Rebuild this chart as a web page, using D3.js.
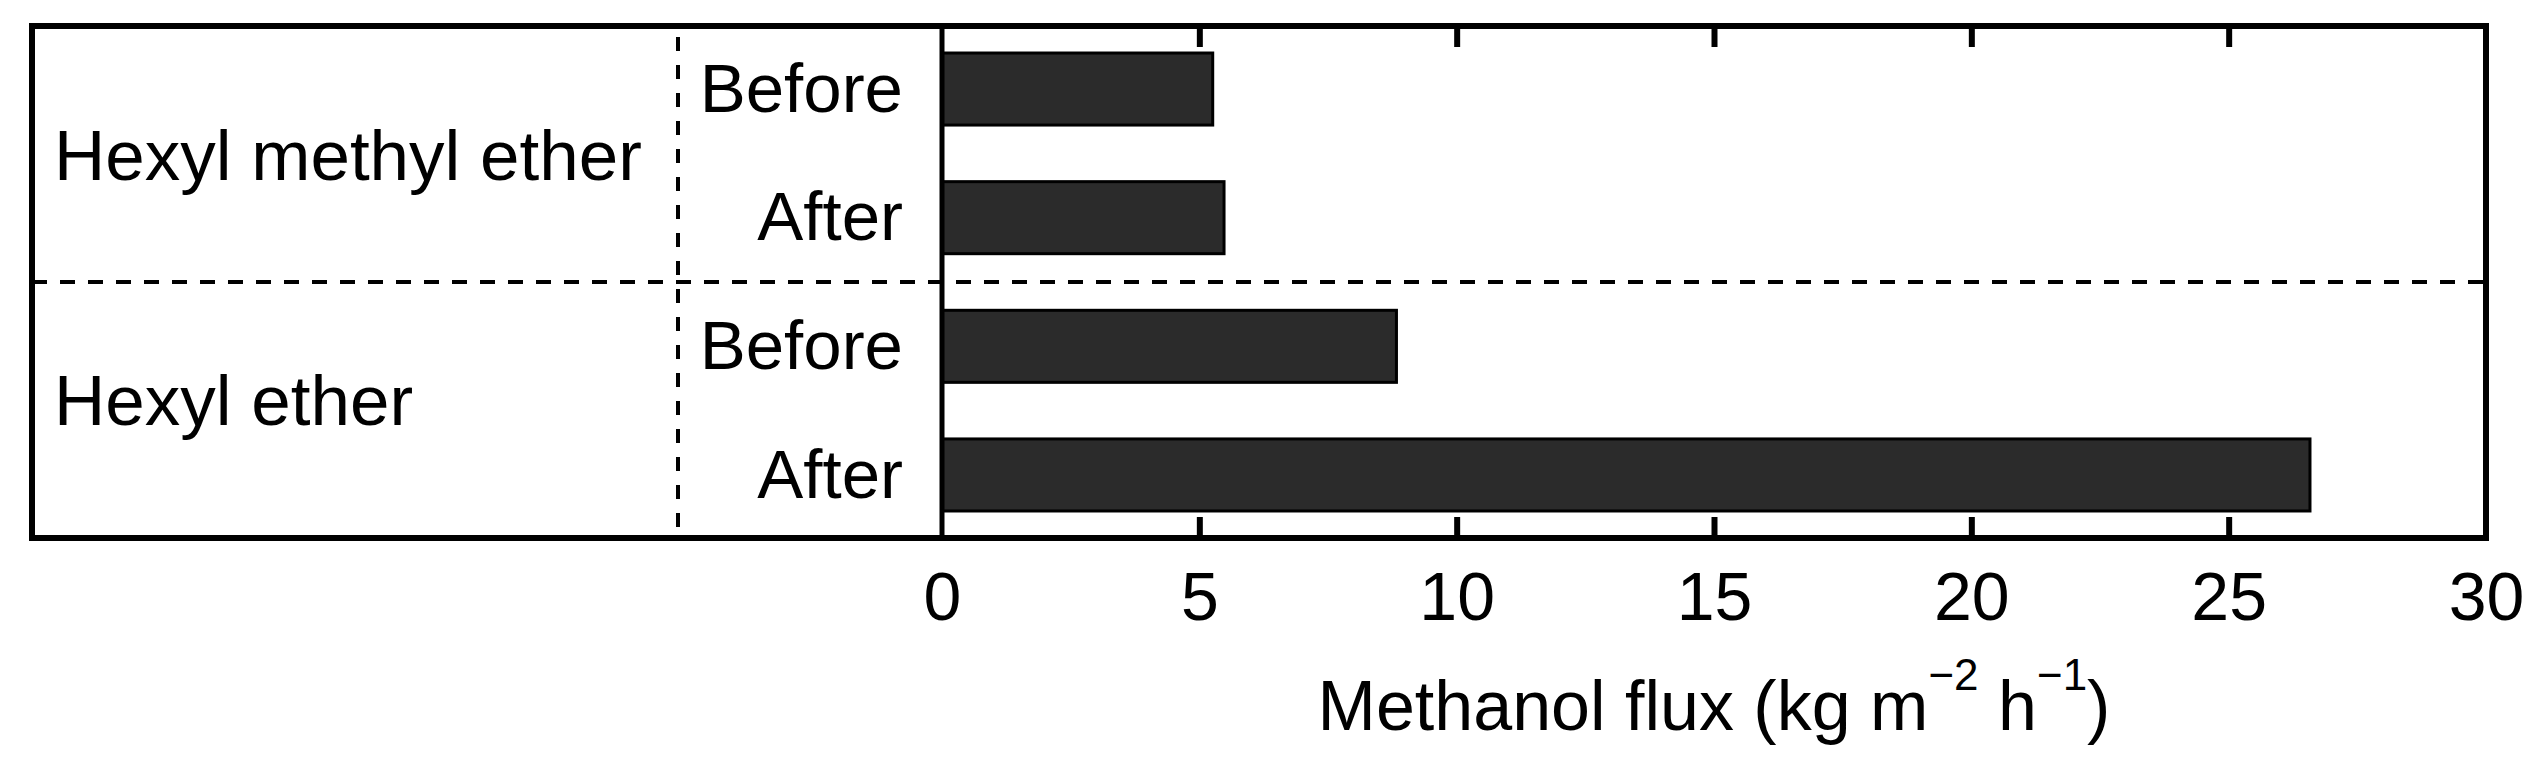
<!DOCTYPE html>
<html>
<head>
<meta charset="utf-8">
<script src="https://cdn.jsdelivr.net/npm/d3@7"></script>
<style>
  body { margin: 0; background: #fff; }
  text { font-family: "Liberation Sans", Arial, sans-serif; fill: #000; }
</style>
</head>
<body>
<div id="chart"></div>
<script>
// data
const groups = ["Hexyl methyl ether", "Hexyl ether"];
const conditions = ["Before", "After"];
const fluxValues = [
  [5.26, 5.48],
  [8.83, 26.58]
];
const xTicks = [0, 5, 10, 15, 20, 25, 30];
const xDomain = [0, 30];

const width = 2532, height = 762;
const box = { left: 32, right: 2486, top: 26, bottom: 538 };
const plotLeft = 942;
const fontSize = 68;

const rows = [];
groups.forEach(function (g, gi) {
  conditions.forEach(function (c, ci) {
    rows.push({ key: g + "|" + c, group: g, gi: gi, condition: c, value: fluxValues[gi][ci] });
  });
});

const svg = d3.select("#chart").append("svg")
  .attr("width", width)
  .attr("height", height);

const x = d3.scaleLinear().domain(xDomain).range([plotLeft, box.right]);
const y = d3.scaleBand()
  .domain(rows.map(function (d) { return d.key; }))
  .range([box.top, box.bottom])
  .paddingInner(0.44)
  .paddingOuter(0.21);

// bars
svg.append("g").selectAll("rect")
  .data(rows)
  .join("rect")
  .attr("x", x(0))
  .attr("y", function (d) { return y(d.key); })
  .attr("width", function (d) { return x(d.value) - x(0); })
  .attr("height", y.bandwidth())
  .attr("fill", "#2b2b2b")
  .attr("stroke", "#000")
  .attr("stroke-width", 3);

// group separator (dashed, full width)
const sepY = (y(rows[1].key) + y.bandwidth() + y(rows[2].key)) / 2;
svg.append("line")
  .attr("x1", box.left).attr("x2", box.right)
  .attr("y1", sepY).attr("y2", sepY)
  .attr("stroke", "#000")
  .attr("stroke-width", 4)
  .attr("stroke-dasharray", "15 13");

// dashed divider between group names and condition names
const dividerX = 678;
svg.append("line")
  .attr("x1", dividerX).attr("x2", dividerX)
  .attr("y1", box.top + 11).attr("y2", box.bottom)
  .attr("stroke", "#000")
  .attr("stroke-width", 4)
  .attr("stroke-dasharray", "14 14");

// inward ticks, bottom with labels, top without
const innerTicks = xTicks.filter(function (t) { return t > xDomain[0] && t < xDomain[1]; });

const bottomAxis = svg.append("g")
  .attr("transform", "translate(0," + box.bottom + ")")
  .call(d3.axisBottom(x).tickValues(xTicks).tickSizeInner(-21).tickSizeOuter(0).tickPadding(34));
bottomAxis.select(".domain").remove();
bottomAxis.selectAll(".tick line")
  .attr("stroke-width", 6)
  .attr("display", function (d) { return innerTicks.indexOf(d) < 0 ? "none" : null; });
bottomAxis.selectAll(".tick text")
  .attr("font-size", fontSize)
  .attr("font-family", "Liberation Sans, Arial, sans-serif")
  .attr("fill", "#000");

const topAxis = svg.append("g")
  .attr("transform", "translate(0," + box.top + ")")
  .call(d3.axisTop(x).tickValues(innerTicks).tickSizeInner(-21).tickSizeOuter(0).tickFormat(""));
topAxis.select(".domain").remove();
topAxis.selectAll(".tick line").attr("stroke-width", 6);

// value axis line at zero
svg.append("line")
  .attr("x1", x(0)).attr("x2", x(0))
  .attr("y1", box.top).attr("y2", box.bottom)
  .attr("stroke", "#000")
  .attr("stroke-width", 5);

// outer frame
svg.append("rect")
  .attr("x", box.left).attr("y", box.top)
  .attr("width", box.right - box.left)
  .attr("height", box.bottom - box.top)
  .attr("fill", "none")
  .attr("stroke", "#000")
  .attr("stroke-width", 6);

// condition labels
svg.append("g").selectAll("text")
  .data(rows)
  .join("text")
  .attr("x", 903)
  .attr("y", function (d) { return y(d.key) + y.bandwidth() / 2; })
  .attr("dy", "0.33em")
  .attr("text-anchor", "end")
  .attr("font-size", fontSize + 1)
  .text(function (d) { return d.condition; });

// group labels
const groupShift = [27, 14];
svg.append("g").selectAll("text")
  .data(groups)
  .join("text")
  .attr("x", 54)
  .attr("y", function (g, gi) {
    const r = rows.filter(function (d) { return d.gi === gi; });
    const c0 = y(r[0].key) + y.bandwidth() / 2;
    const c1 = y(r[r.length - 1].key) + y.bandwidth() / 2;
    return (c0 + c1) / 2 + groupShift[gi];
  })
  .attr("font-size", fontSize + 3)
  .text(function (g) { return g; });

// x axis title with superscripts
const title = svg.append("text")
  .attr("x", (x.range()[0] + x.range()[1]) / 2)
  .attr("y", 730)
  .attr("text-anchor", "middle")
  .attr("font-size", fontSize + 2);
title.append("tspan").text("Methanol flux (kg m");
title.append("tspan").attr("font-size", 44).attr("dy", -40).text("\u22122");
title.append("tspan").attr("dy", 40).text(" h");
title.append("tspan").attr("font-size", 44).attr("dy", -40).text("\u22121");
title.append("tspan").attr("dy", 40).text(")");
</script>
</body>
</html>
